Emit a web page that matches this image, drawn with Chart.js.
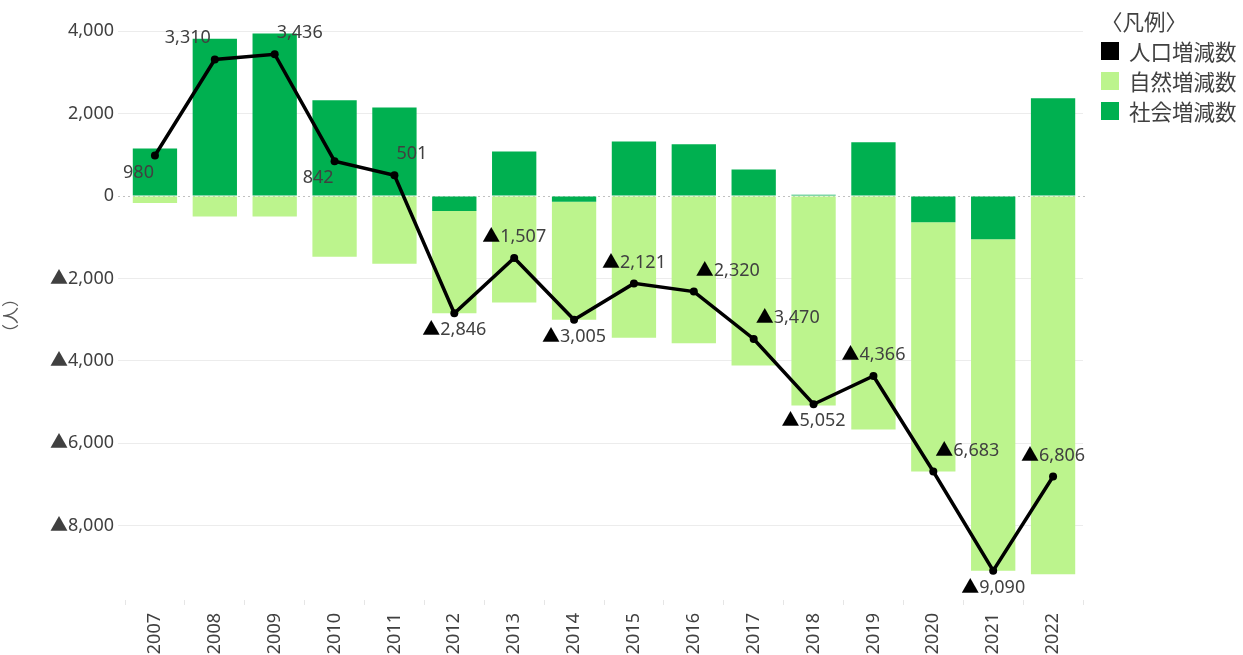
<!DOCTYPE html>
<html><head><meta charset="utf-8">
<script src="https://cdn.jsdelivr.net/npm/chart.js@4"></script>
<style>
html,body{margin:0;padding:0;background:#fff;}
#wrap{position:relative;width:1243px;height:655px;overflow:hidden;}
#legend{position:absolute;left:1101px;top:6px;font-family:"Noto Sans CJK JP",sans-serif;font-size:21.5px;color:#404040;line-height:30px;}
#legend .row{display:flex;align-items:center;white-space:nowrap;}
#legend .box{display:inline-block;width:18px;height:18px;margin-right:10px;}
</style></head><body>
<div id="wrap">
<canvas id="c" width="1243" height="655"></canvas>
<div id="legend">
  <div class="row">〈凡例〉</div>
  <div class="row"><span class="box" style="background:#000"></span>人口増減数</div>
  <div class="row"><span class="box" style="background:#bcf48d"></span>自然増減数</div>
  <div class="row"><span class="box" style="background:#00b050"></span>社会増減数</div>
</div>
</div>
<script>
const years = ['2007','2008','2009','2010','2011','2012','2013','2014','2015','2016','2017','2018','2019','2020','2021','2022'];
const socialChange = [1150, 3811, 3937, 2320, 2145, -364, 1075, -140, 1320, 1255, 640, 30, 1300, -640, -1050, 2370];
const naturalChange = [-170, -501, -501, -1478, -1644, -2482, -2582, -2865, -3441, -3575, -4110, -5082, -5666, -6043, -8040, -9176];
const totalChange = [980, 3310, 3436, 842, 501, -2846, -1507, -3005, -2121, -2320, -3470, -5052, -4366, -6683, -9090, -6806];
const yTickValues = [4000, 2000, 0, -2000, -4000, -6000, -8000];
const labelPlacement = ['bl','al','ar','bl','ar','b','a','b','a','ar','ar','b','a','ar','b','a'];

const FONT = '"Noto Sans","Noto Sans CJK JP",sans-serif';
const TEXT = '#404040';
function fmtNum(v){ return Math.abs(v).toLocaleString('en-US'); }
function fmt(v){ return (v < 0 ? '▲' : '') + fmtNum(v); }

const zeroLine = {
  id:'zeroLine',
  beforeDatasetsDraw(chart){
    const y = chart.scales.y.getPixelForValue(0);
    const a = chart.chartArea, ctx = chart.ctx;
    ctx.save();
    ctx.strokeStyle = '#c0c0c0';
    ctx.lineWidth = 1;
    ctx.setLineDash([2,3]);
    ctx.beginPath();
    ctx.moveTo(a.left - 7, Math.round(y)+0.5);
    ctx.lineTo(a.right + 2, Math.round(y)+0.5);
    ctx.stroke();
    ctx.restore();
  }
};

const pointLabels = {
  id:'pointLabels',
  afterDatasetsDraw(chart){
    const meta = chart.getDatasetMeta(2);
    const ctx = chart.ctx;
    ctx.save();
    ctx.font = '18px ' + FONT;
    ctx.textBaseline = 'middle';
    meta.data.forEach((pt, i) => {
      const v = totalChange[i];
      const neg = v < 0;
      const tri = neg ? '▲' : '';
      const num = fmtNum(v);
      const wTri = ctx.measureText(tri).width;
      const wNum = ctx.measureText(num).width;
      const w = wTri + wNum;
      let x = pt.x, y = pt.y, left;
      const p = labelPlacement[i];
      if (p === 'a') { y -= 21; left = x - w/2; }
      else if (p === 'b') { y += 17; left = x - w/2; }
      else if (p === 'ar') { y -= 21; left = x + 2; }
      else if (p === 'al') { y -= 22; left = x - 4 - w; }
      else { y += 17; left = x - 1 - w; }
      ctx.textAlign = 'left';
      if (neg) { ctx.fillStyle = '#000'; ctx.fillText(tri, left, y); }
      ctx.fillStyle = TEXT;
      ctx.fillText(num, left + wTri, y);
    });
    ctx.restore();
  }
};

new Chart(document.getElementById('c'), {
  data: {
    labels: years,
    datasets: [
      { type:'bar', label:'社会増減数', data: socialChange, backgroundColor:'#00b050', stack:'bars', order:2,
        barPercentage:0.74, categoryPercentage:1 },
      { type:'bar', label:'自然増減数', data: naturalChange, backgroundColor:'#bcf48d', stack:'bars', order:2,
        barPercentage:0.74, categoryPercentage:1 },
      { type:'line', label:'人口増減数', data: totalChange, borderColor:'#000', backgroundColor:'#000',
        borderWidth:3.5, pointRadius:4, pointBackgroundColor:'#000', pointBorderWidth:0, stack:'total', order:0,
        tension:0 }
    ]
  },
  options: {
    responsive:false,
    animation:false,
    layout:{ padding:{ left:0, right:160, top:31, bottom:0 } },
    plugins:{ legend:{display:false}, tooltip:{enabled:false} },
    scales:{
      x:{
        stacked:true,
        grid:{ offset:true, drawOnChartArea:false, drawTicks:true, tickLength:5, tickColor:'#e6e6e6', color:'#e6e6e6' },
        border:{ display:false },
        ticks:{ minRotation:90, maxRotation:90, autoSkip:false, color:TEXT, font:{ family:FONT, size:18 }, padding:8 },
        afterFit(s){ s.height = 55; }
      },
      y:{
        stacked:true,
        min:-9800, max:4000,
        afterBuildTicks(s){ s.ticks = yTickValues.map(v => ({value:v})); },
        grid:{ color: c => (c.tick && c.tick.value === 0) ? 'rgba(0,0,0,0)' : '#ececec', tickLength:7, tickColor: c => (c.tick && c.tick.value === 0) ? 'rgba(0,0,0,0)' : '#ececec' },
        border:{ display:false },
        ticks:{ color:TEXT, font:{ family:FONT, size:18 }, padding:4, callback: v => fmt(v) },
        title:{ display:true, text:'（人）', color:'#595959', font:{ family:'"Noto Sans CJK JP",sans-serif', size:17 }, padding:{top:0,bottom:0} },
        afterFit(s){ s.width = 125; }
      }
    }
  },
  plugins:[zeroLine, pointLabels]
});
</script>
</body></html>
